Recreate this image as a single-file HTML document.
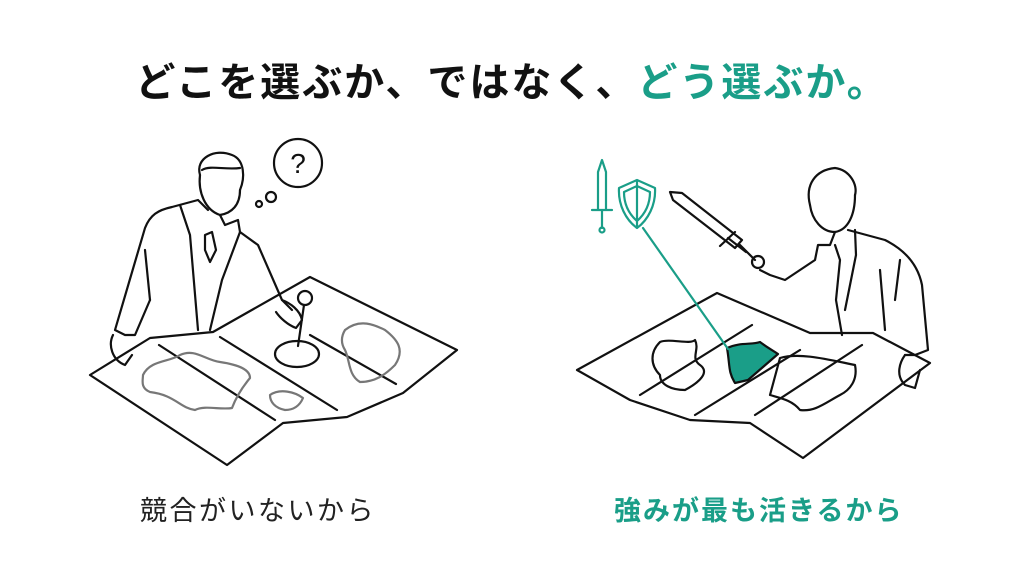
<!DOCTYPE html>
<html><head><meta charset="utf-8"><style>
html,body{margin:0;padding:0;background:#fff;}
body{width:1024px;height:572px;position:relative;overflow:hidden;font-family:"Liberation Sans","Noto Sans CJK JP",sans-serif;}
.t{position:absolute;left:0;width:1024px;top:50px;text-align:center;font-size:40px;font-weight:bold;color:#111;letter-spacing:2px;}
.g{color:#1a9e88;}
.c1{position:absolute;left:140px;top:489px;font-size:27px;color:#222;letter-spacing:2.5px;}
.c2{position:absolute;left:614px;top:489px;font-size:27px;font-weight:bold;color:#1a9e88;letter-spacing:2px;}
svg{position:absolute;left:0;top:0;}
</style></head><body>
<div class="t">どこを選ぶか、ではなく、<span class="g">どう選ぶか。</span></div>
<svg width="1024" height="572" fill="none" stroke="#111" stroke-width="2.2" stroke-linejoin="round" stroke-linecap="round">
<!-- LEFT -->
<path d="M90,375 L150,338 L213,332 L310,277 L457,350 L403,393 L347,417 L283,423 L227,465 Z" fill="#fff"/>
<path d="M159,345 L275,420 M220,337 L337,410 M310,335 L396,384"/>
<path stroke="#777" d="M143,375 C150,360 170,362 180,355 C195,348 205,360 220,362 C240,365 250,370 250,378 C240,390 235,400 232,408 C220,410 205,405 195,410 C180,408 175,395 150,392 C140,388 143,380 143,375 Z"/>
<path stroke="#777" d="M270,395 C280,388 295,392 303,398 C300,405 295,410 285,410 C275,408 270,402 270,395 Z"/>
<path stroke="#777" d="M345,330 C360,318 375,325 385,330 C398,340 405,350 395,365 C385,375 375,382 360,382 C348,375 350,360 345,350 C340,342 342,335 345,330 Z"/>
<ellipse cx="297" cy="354" rx="22" ry="13"/>
<circle cx="305" cy="298" r="7"/><path d="M304,305 L298,346"/>
<!-- person left -->
<path d="M200,175 C195,158 215,148 232,155 C245,160 245,178 240,190" />
<path d="M200,175 C198,192 205,210 220,215 C232,213 240,205 240,190"/>
<path d="M202,170 C210,165 225,170 240,168"/>
<path d="M208,210 L198,200 L172,207 C158,210 150,215 145,228 L115,330 L125,335 L135,335 L150,300"/>
<path d="M220,215 L225,225 L238,220 L240,232 L258,245 L282,300 L292,310"/>
<path d="M150,300 L145,250 M180,205 L190,235 L198,330 M240,232 L222,280 L210,330 M205,235 L212,232 L216,250 L210,262 L205,250 Z"/>
<path d="M282,300 C290,303 300,310 302,320 L296,328 C288,325 280,318 276,312"/>
<path d="M113,335 C108,345 112,360 125,365 L132,355"/>
<circle cx="298" cy="163" r="24"/>
<circle cx="271" cy="197" r="5"/><circle cx="259" cy="204" r="3"/>
<text x="298" y="173" font-family="Liberation Sans" font-size="28" fill="#111" stroke="none" text-anchor="middle">?</text>
<!-- RIGHT -->
<path d="M577,370 L717,293 L810,333 L873,333 L930,363 L803,458 L750,423 L690,420 L630,400 Z" fill="#fff"/>
<path d="M640,395 L752,325 M695,415 L800,350 M755,415 L862,345"/>
<path d="M660,342 C670,338 690,345 695,340 C700,350 690,358 700,365 C710,372 700,382 685,390 C672,390 660,385 660,375 C650,365 650,352 660,342 Z"/>
<path d="M780,358 C800,352 830,360 855,365 C858,380 850,390 840,395 C825,403 815,412 800,410 C792,400 780,398 770,395 Z"/>
<path fill="#1a9e88" stroke="#111" d="M727,348 C740,342 752,345 760,342 C768,348 772,350 778,354 L748,380 L735,383 C728,372 730,365 727,348 Z"/>
<path stroke="#1a9e88" d="M643,228 L728,349"/>
<path stroke="#1a9e88" d="M637,180 L655,188 C656,205 648,220 637,228 C626,220 618,205 619,188 Z M637,180 L637,228 M637,186 L650,192 C650,205 645,214 637,221 C629,214 624,205 624,192 Z"/>
<path stroke="#1a9e88" d="M602,160 L606,172 L606,210 L598,210 L598,172 Z M592,210 L612,210 M602,210 L602,228"/>
<circle cx="602" cy="230" r="2.5" stroke="#1a9e88"/>
<path d="M670,192 L682,193 L742,240 L735,248 L673,200 Z M728,238 L746,252 M720,246 L735,232 M740,245 L755,260"/>
<circle cx="758" cy="262" r="6"/>
<path d="M810,205 C805,185 815,170 835,168 C850,170 858,185 855,195"/>
<path d="M810,205 C812,220 822,232 835,232 C848,230 855,215 855,195"/>
<path d="M848,230 L885,240 C905,250 918,265 922,285 L928,350 L915,355 L905,355"/>
<path d="M835,232 L830,245 L818,245 L815,260 L785,280 L770,275 L760,270"/>
<path d="M835,245 L840,260 L836,300 L842,335 M855,230 L856,255 L845,310 M880,270 L885,330 M900,260 L895,300"/>
<path d="M905,355 C900,362 895,375 905,385 L915,388 L920,370"/>
</svg>
<div class="c1">競合がいないから</div>
<div class="c2">強みが最も活きるから</div>
</body></html>
